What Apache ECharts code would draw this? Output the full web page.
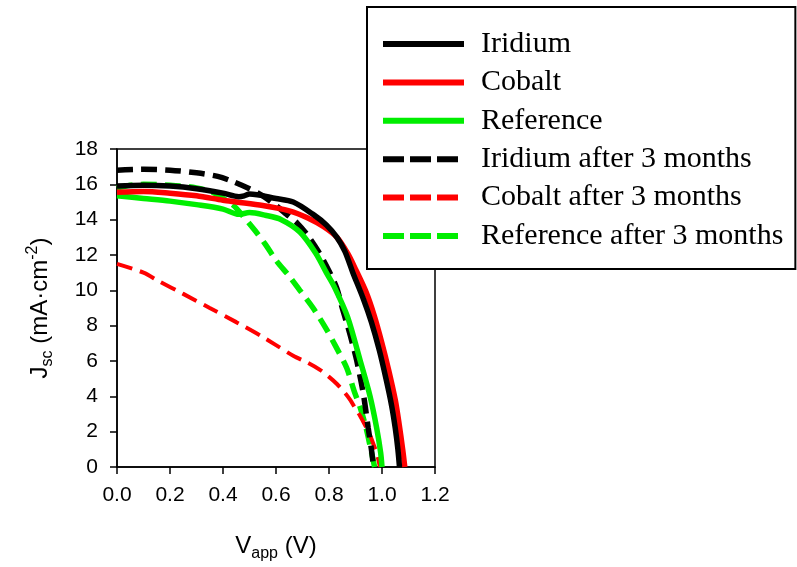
<!DOCTYPE html>
<html>
<head>
<meta charset="utf-8">
<script src="https://cdn.jsdelivr.net/npm/echarts@6/dist/echarts.min.js"></script>
<style>
  html, body { margin: 0; padding: 0; background: #fff; }
  #chart { width: 797px; height: 567px; }
</style>
</head>
<body>
<div id="chart"></div>
<script>
// J-V curves, [V (V), Jsc (mA/cm2)]
const iridium = [[0,15.9],[0.1,15.95],[0.2,15.9],[0.3,15.75],[0.4,15.5],[0.46,15.3],[0.48,15.35],[0.5,15.45],[0.6,15.2],[0.665,15.0],[0.74,14.3],[0.79,13.7],[0.83,13.0],[0.86,12.2],[0.89,11.0],[0.93,9.5],[0.96,8.2],[0.99,6.6],[1.015,5.0],[1.036,3.5],[1.05,2.2],[1.06,1.0],[1.066,0]]
const cobalt = [[0,15.55],[0.1,15.6],[0.2,15.5],[0.3,15.35],[0.4,15.1],[0.45,15.0],[0.55,14.8],[0.65,14.5],[0.72,14.1],[0.78,13.6],[0.83,13.0],[0.87,12.1],[0.9,11.2],[0.94,9.9],[0.97,8.6],[1.0,7.0],[1.025,5.5],[1.05,3.8],[1.065,2.4],[1.078,1.0],[1.086,0]]
const reference = [[0,15.35],[0.1,15.2],[0.2,15.05],[0.3,14.85],[0.4,14.6],[0.46,14.3],[0.5,14.4],[0.56,14.25],[0.62,14.0],[0.69,13.3],[0.75,12.1],[0.79,11.0],[0.82,10.2],[0.87,8.5],[0.92,5.9],[0.955,4.0],[0.98,2.2],[0.995,0.8],[1.0,0]]
const iridium3m = [[0,16.8],[0.1,16.85],[0.2,16.8],[0.3,16.65],[0.38,16.45],[0.43,16.2],[0.5,15.75],[0.55,15.35],[0.6,14.8],[0.64,14.3],[0.68,13.8],[0.72,13.1],[0.76,12.2],[0.8,11.1],[0.83,10.1],[0.85,9.0],[0.87,8.0],[0.89,6.9],[0.905,6.0],[0.93,4.1],[0.948,2.2],[0.96,1.0],[0.968,0]]
const cobalt3m = [[0,11.5],[0.1,11.0],[0.16,10.5],[0.25,9.8],[0.35,9.0],[0.45,8.2],[0.54,7.45],[0.6,6.9],[0.665,6.3],[0.72,5.9],[0.766,5.5],[0.8,5.1],[0.83,4.7],[0.86,4.2],[0.88,3.8],[0.9,3.3],[0.917,2.9],[0.935,2.4],[0.955,1.8],[0.97,1.2],[0.98,0.8],[0.988,0.3],[0.992,0]]
const reference3m = [[0,15.8],[0.05,15.95],[0.1,16.0],[0.2,15.95],[0.3,15.8],[0.36,15.55],[0.4,15.2],[0.44,14.8],[0.47,14.3],[0.52,13.4],[0.56,12.6],[0.6,11.7],[0.65,10.8],[0.69,10.0],[0.74,9.0],[0.79,7.8],[0.83,6.7],[0.867,5.6],[0.895,4.3],[0.917,3.4],[0.94,2.2],[0.955,1.2],[0.968,0.3],[0.972,0]]

const names = ['Iridium', 'Cobalt', 'Reference', 'Iridium after 3 months', 'Cobalt after 3 months', 'Reference after 3 months']
const curves = [iridium, cobalt, reference, iridium3m, cobalt3m, reference3m]
const colors = ['#000000', '#ff0000', '#00ee00', '#000000', '#ff0000', '#00ee00']
const dashed = [false, false, false, true, true, true]
const widths = [5.5, 5.5, 5.5, 5.5, 4, 5.5]

const chart = echarts.init(document.getElementById('chart'))

const axisFont = { fontFamily: 'Liberation Sans, Arial', fontSize: 21, color: '#000' }
const titleRich = {
  m: { fontFamily: 'Liberation Sans, Arial', fontSize: 24, color: '#000', lineHeight: 30 },
  s: { fontFamily: 'Liberation Sans, Arial', fontSize: 16, color: '#000', lineHeight: 30, padding: [16, 0, 0, 0] },
  p: { fontFamily: 'Liberation Sans, Arial', fontSize: 16, color: '#000', lineHeight: 30, padding: [0, 0, 14, 0] },
}

chart.setOption({
  animation: false,
  grid: {
    left: 117, right: 362, top: 149, bottom: 99,
    show: true, borderColor: '#000', borderWidth: 1.5,
  },
  legend: {
    orient: 'vertical',
    left: 367, top: 7,
    padding: [22, 12, 18, 13],
    itemWidth: 81, itemHeight: 14, itemGap: 8.4,
    borderColor: '#000', borderWidth: 2,
    backgroundColor: '#fff',
    textStyle: { fontFamily: 'Liberation Serif, Times New Roman', fontSize: 30, color: '#000', padding: [0, 0, 0, 12] },
    itemStyle: { opacity: 0 },
    lineStyle: { width: 6 },
    data: names.map((n, i) => dashed[i] ? { name: n, lineStyle: { width: 6, type: [21, 6] } } : n),
  },
  xAxis: {
    type: 'value', min: 0, max: 1.2, interval: 0.2,
    name: '{m|V}{s|app}{m| (V)}',
    nameLocation: 'middle', nameGap: 64,
    nameTextStyle: { rich: titleRich },
    axisLine: { lineStyle: { color: '#000', width: 1.5 } },
    axisTick: { inside: false, length: 7, lineStyle: { color: '#000', width: 1.5 } },
    axisLabel: { ...axisFont, margin: 18, formatter: v => v.toFixed(1) },
    splitLine: { show: false },
  },
  yAxis: {
    type: 'value', min: 0, max: 18, interval: 2,
    name: '{m|J}{s|sc}{m| (mA·cm}{p|-2}{m|)}',
    nameLocation: 'middle', nameGap: 62,
    nameTextStyle: { rich: titleRich },
    axisLine: { show: true, lineStyle: { color: '#000', width: 1.5 } },
    axisTick: { show: true, inside: false, length: 7, lineStyle: { color: '#000', width: 1.5 } },
    axisLabel: { ...axisFont, margin: 19 },
    splitLine: { show: false },
  },
  series: curves.map((d, i) => ({
    name: names[i],
    type: 'line',
    data: d,
    smooth: 0.3,
    symbol: 'none',
    lineStyle: { color: colors[i], width: widths[i], type: dashed[i] ? [16, 8] : 'solid' },
    itemStyle: { color: colors[i] },
    z: 10 - i,
  })),
})
</script>
</body>
</html>
